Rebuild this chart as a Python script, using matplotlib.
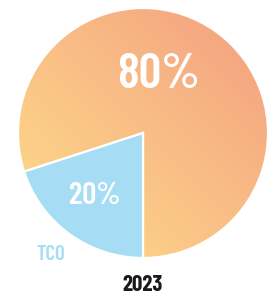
import numpy as np
import matplotlib
matplotlib.use('Agg')
import matplotlib.pyplot as plt
from matplotlib.colors import LinearSegmentedColormap

# data
categories = ['Other', 'TCO']
shares = [80, 20]
year = '2023'

W, H = 269, 297
fig = plt.figure(figsize=(W / 100, H / 100), dpi=100)
ax = fig.add_axes([0, 0, 1, 1])

cx, cy, r = 143, H - 133, 125
wedges, _ = ax.pie(shares, center=(cx, cy), radius=r, startangle=270,
                   counterclock=True, colors=['none', '#a6ddf5'],
                   wedgeprops=dict(edgecolor='white', linewidth=1.6))
wedges[1].set_zorder(3)

# gradient fill on the big slice (yellow bottom-left -> salmon top-right)
cmap = LinearSegmentedColormap.from_list('g', ['#fedd8a', '#f9bf86', '#f39e7e'])
n = 300
xx, yy = np.meshgrid(np.linspace(0, 1, n), np.linspace(0, 1, n))
grad = (xx + yy) / 2
img = ax.imshow(grad, cmap=cmap, origin='lower', extent=(cx - r, cx + r, cy - r, cy + r),
                zorder=1, interpolation='bilinear')
img.set_clip_path(wedges[0])
wedges[0].set_zorder(2)

ax.set_xlim(0, W)
ax.set_ylim(0, H)
ax.set_aspect('equal')
ax.axis('off')

fam = ['Barlow Condensed', 'DejaVu Sans']
ax.text(159, H - 75, f'{shares[0]}%', color='white', fontsize=36, family=fam, weight=600,
        ha='center', va='center', zorder=5)
ax.text(95, H - 196, f'{shares[1]}%', color='white', fontsize=22.5, family=fam, weight=600,
        ha='center', va='center', zorder=5)
ax.text(51, H - 255, categories[1], color='#a6ddf5', fontsize=15, family=fam, weight=600,
        ha='center', va='center', zorder=5)
ax.text(143, H - 285, year, color='#1a1a1a', fontsize=16.5, family=fam, weight=700,
        ha='center', va='center', zorder=5)

fig.savefig('out.png', dpi=100)
